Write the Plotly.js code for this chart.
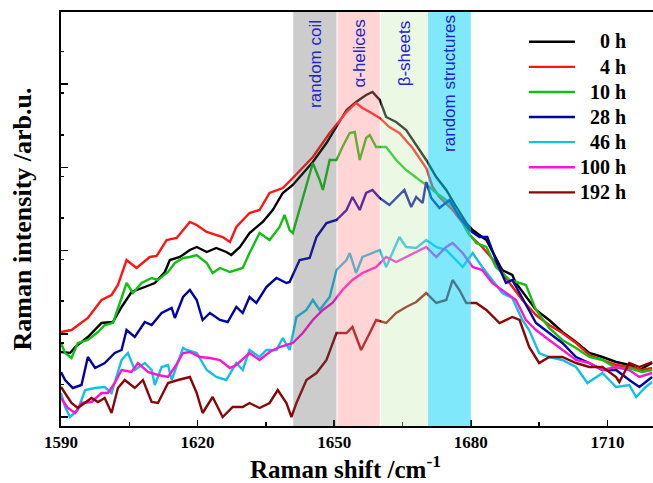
<!DOCTYPE html>
<html>
<head>
<meta charset="utf-8">
<script src="https://cdn.plot.ly/plotly-3.0.1.min.js"></script>
<style>
  html, body { margin: 0; padding: 0; background: #ffffff; }
  #chart { width: 653px; height: 483px; }
</style>
</head>
<body>
<div id="chart"></div>
<script>
// Amide I band of the protein, Raman spectra recorded at increasing times.
const seriesNames = ['0 h', '4 h', '10 h', '28 h', '46 h', '100 h', '192 h'];
const seriesColors = ['#000000', '#ff1414', '#12c012', '#0000a8', '#12c0e6', '#ff14d2', '#8b0505'];

const shift_0h = [1590, 1592.0, 1593.1, 1595.9, 1598.9, 1601.4, 1603.3, 1605.5, 1608.4, 1610.6, 1612.8, 1613.9, 1616.1, 1618.3, 1619.8, 1622.0, 1624.1, 1626.3, 1627.4, 1629.3, 1631.4, 1634.3, 1636.5, 1638.7, 1640.9, 1642.4, 1645.3, 1648.3, 1650.5, 1652.7, 1654.8, 1657.0, 1658.4, 1660.0, 1661.4, 1663.6, 1665.8, 1668.7, 1670.2, 1672.4, 1674.6, 1676.8, 1679.0, 1680.4, 1683.4, 1685.5, 1686.9, 1689.1, 1689.9, 1694.3, 1697.2, 1700.1, 1703.1, 1706.0, 1708.9, 1711.9, 1714.8, 1717.0, 1719.8];
const int_0h = [74, 73, 79, 89, 103, 104, 119, 134, 139, 143, 154, 166, 169, 176, 179, 174, 178, 174, 171, 179, 193, 204, 216, 233, 241, 249, 264, 283, 299, 316, 324, 331, 334, 326, 309, 304, 296, 276, 266, 249, 236, 219, 203, 196, 186, 168, 156, 151, 143, 116, 106, 94, 84, 73, 69, 64, 61, 56, 63];

const shift_4h = [1590, 1592.3, 1595.9, 1598.9, 1601.1, 1602.5, 1604.4, 1606.6, 1609.5, 1611.0, 1613.2, 1615.4, 1618.3, 1619.8, 1622.0, 1624.1, 1625.5, 1627.1, 1628.5, 1631.4, 1633.6, 1635.8, 1638.7, 1640.9, 1645.3, 1649.0, 1650.7, 1652.7, 1654.8, 1656.2, 1657.8, 1660.0, 1662.1, 1664.3, 1667.2, 1670.2, 1671.6, 1673.1, 1676.0, 1678.2, 1679.7, 1682.5, 1685.5, 1688.5, 1691.3, 1694.3, 1697.2, 1700.1, 1703.1, 1706.0, 1708.9, 1711.9, 1714.8, 1717.6, 1719.8];
const int_4h = [94, 96, 108, 126, 131, 141, 166, 158, 169, 170, 186, 188, 204, 201, 194, 191, 189, 184, 199, 213, 216, 233, 238, 248, 269, 293, 303, 314, 323, 318, 314, 308, 299, 293, 278, 258, 239, 229, 216, 203, 191, 179, 163, 143, 126, 111, 101, 93, 83, 71, 66, 61, 59, 56, 58];

const shift_10h = [1590, 1590.9, 1592.3, 1593.7, 1595.9, 1598.1, 1599.6, 1601.4, 1603.3, 1604.4, 1605.8, 1607.7, 1609.9, 1611.3, 1613.5, 1615.0, 1616.8, 1618.3, 1619.8, 1622.0, 1623.3, 1624.9, 1627.1, 1629.9, 1631.4, 1633.6, 1635.8, 1638.0, 1639.1, 1640.2, 1640.9, 1642.4, 1645.3, 1646.8, 1647.5, 1649.0, 1650.5, 1651.8, 1653.4, 1654.5, 1655.6, 1657.0, 1657.8, 1659.2, 1661.4, 1663.6, 1665.8, 1668.7, 1670.9, 1672.4, 1674.6, 1676.8, 1679.0, 1681.2, 1683.4, 1685.5, 1688.5, 1692.1, 1694.3, 1697.2, 1700.1, 1703.1, 1706.0, 1708.9, 1711.9, 1714.8, 1717.6, 1719.8];
const int_10h = [83, 73, 68, 83, 86, 94, 101, 103, 128, 143, 133, 143, 148, 146, 154, 163, 168, 169, 171, 163, 153, 158, 154, 158, 173, 193, 186, 199, 211, 196, 193, 216, 263, 246, 236, 266, 266, 279, 293, 294, 266, 288, 291, 279, 279, 266, 256, 246, 239, 233, 226, 216, 196, 183, 179, 159, 146, 141, 116, 98, 86, 78, 69, 66, 58, 58, 54, 56];

const shift_28h = [1590, 1590.9, 1592.6, 1594.5, 1595.9, 1597.5, 1599.6, 1601.8, 1603.3, 1604.4, 1606.2, 1608.4, 1609.9, 1612.1, 1614.3, 1615.0, 1616.8, 1618.3, 1619.8, 1621.1, 1622.7, 1624.9, 1626.6, 1628.5, 1629.9, 1631.4, 1632.9, 1635.1, 1637.3, 1639.5, 1640.2, 1642.4, 1644.6, 1646.1, 1648.3, 1650.5, 1652.7, 1654.0, 1655.6, 1657.0, 1658.4, 1660.0, 1662.1, 1663.6, 1665.4, 1666.9, 1668.0, 1669.4, 1670.2, 1671.3, 1673.1, 1675.3, 1677.5, 1679.7, 1681.9, 1683.6, 1685.5, 1687.7, 1689.1, 1690.7, 1694.3, 1697.2, 1700.1, 1703.1, 1706.0, 1708.9, 1711.9, 1714.8, 1717.0, 1719.8];
const int_28h = [54, 46, 38, 41, 69, 58, 63, 73, 76, 96, 89, 104, 101, 113, 118, 108, 129, 136, 126, 106, 113, 106, 104, 119, 113, 129, 123, 139, 148, 143, 144, 166, 168, 189, 203, 206, 216, 229, 216, 233, 236, 228, 221, 228, 236, 219, 229, 223, 244, 228, 218, 226, 209, 196, 189, 189, 166, 143, 146, 133, 103, 93, 83, 69, 63, 56, 56, 46, 39, 49];

const shift_46h = [1590, 1590.9, 1592.0, 1593.7, 1595.3, 1597.5, 1599.6, 1601.1, 1603.3, 1604.7, 1606.2, 1608.4, 1609.9, 1610.6, 1612.1, 1613.5, 1614.3, 1615.7, 1616.8, 1617.6, 1619.8, 1622.0, 1624.1, 1626.3, 1628.5, 1629.9, 1631.4, 1633.6, 1635.1, 1637.3, 1638.7, 1640.2, 1641.7, 1643.9, 1645.3, 1646.8, 1649.0, 1650.5, 1652.7, 1653.4, 1654.8, 1656.2, 1658.4, 1660.0, 1661.4, 1663.6, 1664.3, 1665.8, 1668.0, 1670.2, 1672.4, 1674.6, 1676.0, 1678.2, 1680.4, 1682.5, 1684.7, 1686.9, 1689.1, 1691.3, 1692.8, 1695.0, 1697.2, 1700.1, 1703.1, 1705.6, 1708.9, 1711.9, 1714.8, 1716.3, 1718.4, 1719.8];
const int_46h = [33, 19, 9, 16, 36, 38, 39, 33, 66, 73, 56, 63, 56, 41, 59, 61, 46, 63, 78, 76, 73, 56, 49, 46, 63, 56, 76, 69, 76, 76, 88, 76, 109, 116, 126, 116, 129, 156, 166, 173, 153, 169, 173, 176, 159, 183, 189, 179, 178, 186, 179, 176, 169, 159, 173, 159, 146, 133, 128, 106, 96, 73, 69, 66, 59, 43, 53, 39, 41, 29, 39, 44];

const shift_100h = [1590, 1591.5, 1593.1, 1594.5, 1596.7, 1598.9, 1600.3, 1601.8, 1603.3, 1605.5, 1606.9, 1609.1, 1611.3, 1613.5, 1615.0, 1616.8, 1618.3, 1620.5, 1622.7, 1624.9, 1627.1, 1628.5, 1631.4, 1633.6, 1635.8, 1638.0, 1640.9, 1643.1, 1645.3, 1647.5, 1649.6, 1651.8, 1654.0, 1656.2, 1659.2, 1661.4, 1663.6, 1665.8, 1668.0, 1670.2, 1672.4, 1674.6, 1676.0, 1678.2, 1680.4, 1682.5, 1684.7, 1686.9, 1689.1, 1689.9, 1692.1, 1694.3, 1697.2, 1700.1, 1703.1, 1706.0, 1708.9, 1711.9, 1714.8, 1717.0, 1719.8];
const int_100h = [28, 18, 13, 23, 24, 33, 33, 43, 56, 54, 63, 54, 51, 49, 59, 73, 74, 69, 68, 66, 58, 61, 73, 66, 74, 79, 83, 93, 106, 116, 123, 136, 146, 153, 159, 169, 164, 169, 174, 179, 169, 179, 183, 173, 159, 156, 143, 136, 129, 126, 106, 96, 86, 76, 66, 63, 56, 59, 56, 49, 53];

const shift_192h = [1590, 1590.9, 1592.3, 1593.7, 1595.3, 1596.7, 1598.1, 1599.6, 1601.1, 1602.5, 1604.0, 1606.2, 1608.0, 1609.9, 1611.3, 1613.5, 1615.7, 1618.3, 1619.8, 1621.1, 1623.3, 1625.5, 1627.7, 1629.9, 1631.4, 1633.6, 1635.8, 1637.6, 1639.5, 1640.6, 1641.7, 1643.9, 1646.1, 1648.3, 1650.5, 1652.7, 1654.0, 1655.9, 1657.8, 1659.2, 1661.4, 1663.6, 1665.8, 1668.0, 1670.2, 1672.4, 1674.6, 1676.0, 1677.5, 1679.0, 1681.2, 1683.4, 1686.3, 1689.1, 1690.7, 1692.8, 1695.0, 1697.2, 1700.1, 1703.1, 1706.0, 1708.9, 1711.9, 1712.6, 1714.8, 1717.0, 1719.8];
const int_192h = [39, 33, 23, 18, 23, 28, 24, 28, 13, 38, 46, 38, 46, 24, 23, 43, 46, 49, 33, 13, 29, 9, 19, 19, 23, 18, 23, 36, 23, 9, 23, 46, 53, 66, 93, 93, 99, 76, 93, 106, 103, 113, 119, 124, 133, 123, 126, 146, 136, 123, 123, 116, 103, 109, 106, 79, 63, 69, 69, 63, 59, 59, 49, 44, 63, 59, 64];

// Secondary-structure regions of the amide I band
const bandLabels = ['random coil', 'α-helices', 'β-sheets', 'random structures'];
const bandStart = [1641, 1650.7, 1660.3, 1670.6];
const bandEnd = [1650.5, 1660.0, 1670.5, 1680.0];
const bandFill = ['rgba(85,85,85,0.3)', 'rgba(255,135,135,0.35)', 'rgba(195,235,178,0.35)', 'rgba(24,213,248,0.55)'];
const bandLabelShift = [-6, -6, -6, -1];

const xTicks = [1590, 1620, 1650, 1680, 1710];

const shifts = [shift_0h, shift_4h, shift_10h, shift_28h, shift_46h, shift_100h, shift_192h];
const intensities = [int_0h, int_4h, int_10h, int_28h, int_46h, int_100h, int_192h];

// right-align the legend labels with no-break spaces (one digit = two spaces)
function legendLabel(name) {
  const digits = name.split(' ')[0].length;
  const pad = '\u00a0'.repeat(2 * (3 - digits));
  return '<span style="font-size:20px">' + pad + name + '</span>';
}

const traces = seriesNames.map((name, i) => ({
  type: 'scatter',
  mode: 'lines',
  name: legendLabel(name),
  x: shifts[i],
  y: intensities[i],
  line: { color: seriesColors[i], width: 2.4 }
}));

const serif = 'Liberation Serif, Times New Roman, serif';

const shapes = bandLabels.map((_, i) => ({
  type: 'rect',
  layer: 'above',
  xref: 'x', yref: 'paper',
  x0: bandStart[i], x1: bandEnd[i], y0: 0, y1: 1,
  fillcolor: bandFill[i],
  line: { width: 0 }
}));

const annotations = bandLabels.map((label, i) => ({
  text: label,
  xref: 'x', yref: 'paper',
  x: (bandStart[i] + bandEnd[i]) / 2,
  y: 1,
  xanchor: 'center', yanchor: 'top',
  yshift: bandLabelShift[i],
  textangle: -90,
  showarrow: false,
  font: { family: 'Liberation Sans, Arial, sans-serif', size: 17, color: '#2323cc' }
}));

// x-axis title, set slightly left of the plot centre
annotations.push({
  text: 'Raman shift /cm<sup>-1</sup>',
  xref: 'paper', yref: 'paper',
  x: 0.4806, y: -0.099,
  xanchor: 'center', yanchor: 'middle',
  showarrow: false,
  font: { family: serif, size: 25, color: '#000000', weight: 'bold' }
});

const layout = {
  width: 653,
  height: 483,
  margin: { l: 61, r: 0, t: 12, b: 57 },
  paper_bgcolor: '#ffffff',
  plot_bgcolor: '#ffffff',
  showlegend: true,
  legend: {
    x: 0.782, xanchor: 'left',
    y: 0.9705, yanchor: 'top',
    bgcolor: 'rgba(0,0,0,0)',
    borderwidth: 0,
    itemwidth: 46,
    font: { family: serif, size: 17, color: '#000000', weight: 'bold' }
  },
  xaxis: {
    range: [1590, 1720],
    tickvals: xTicks,
    ticktext: xTicks.map(String),
    ticks: 'inside',
    ticklen: 6,
    tickwidth: 1.5,
    tickcolor: '#000000',
    minor: { dtick: 15, tick0: 1590, ticks: 'inside', ticklen: 4, tickwidth: 1.5, tickcolor: '#000000' },
    showline: true,
    linecolor: '#000000',
    linewidth: 2,
    mirror: true,
    showgrid: false,
    zeroline: false,
    tickfont: { family: serif, size: 17, color: '#000000', weight: 'bold' }
  },
  yaxis: {
    range: [0, 414],
    tick0: 9,
    dtick: 83.2,
    ticks: 'inside',
    ticklen: 7,
    tickwidth: 1.5,
    tickcolor: '#000000',
    minor: { dtick: 41.6, ticks: 'inside', ticklen: 3, tickwidth: 1.5, tickcolor: '#000000' },
    showticklabels: false,
    showline: true,
    linecolor: '#000000',
    linewidth: 2,
    mirror: false,
    showgrid: false,
    zeroline: false,
    title: {
      text: 'Raman intensity /arb.u.',
      font: { family: serif, size: 26, color: '#000000', weight: 'bold' },
      standoff: 20
    }
  },
  shapes: shapes,
  annotations: annotations
};

Plotly.newPlot('chart', traces, layout, { displayModeBar: false, staticPlot: true });
</script>
</body>
</html>
